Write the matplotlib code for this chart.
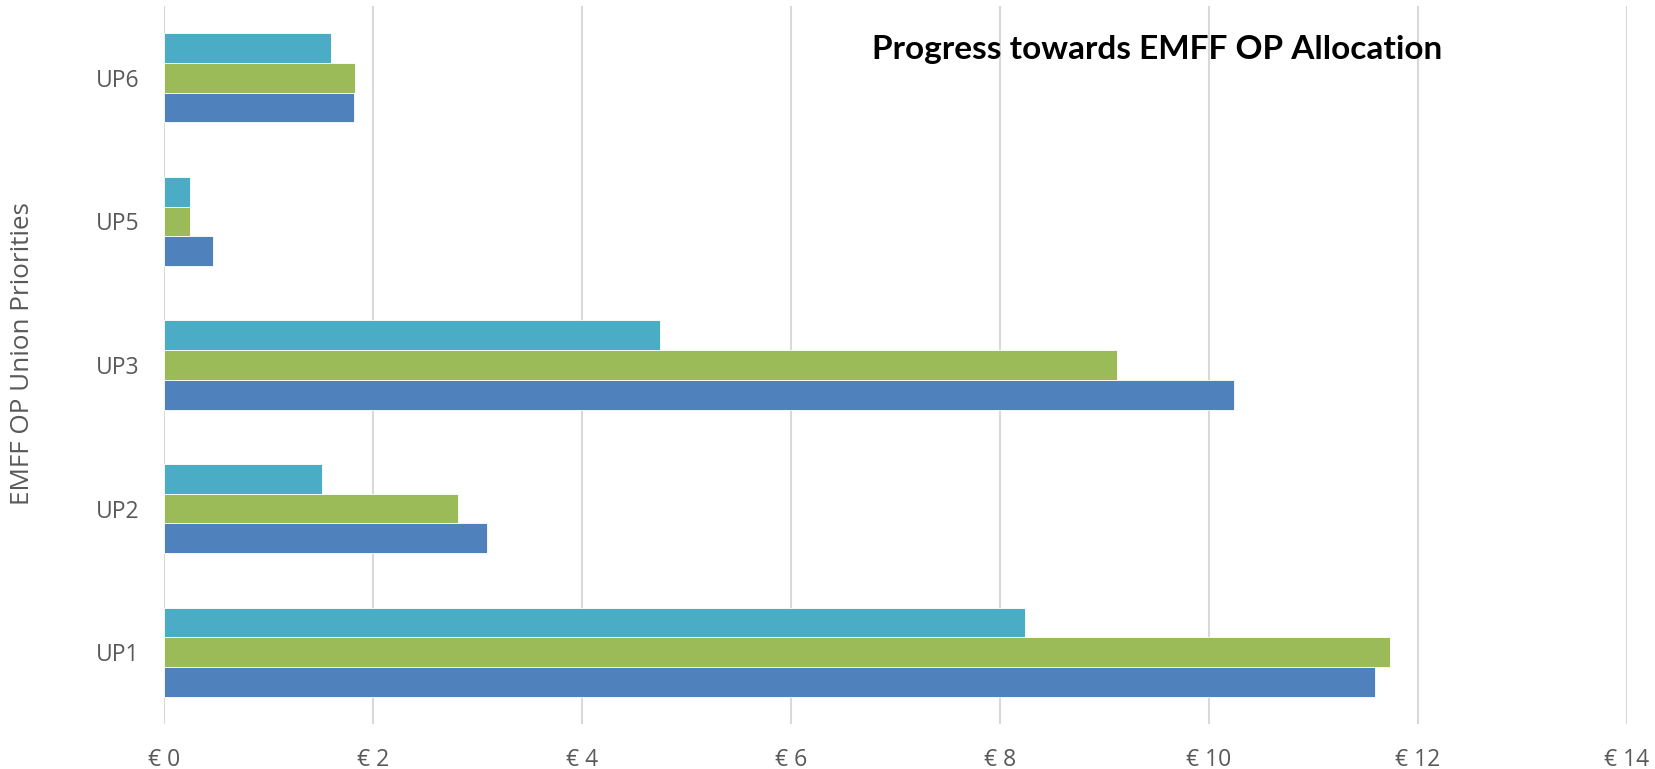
import numpy as np
import matplotlib
matplotlib.use("Agg")
import matplotlib.pyplot as plt

# data (EUR, per Union Priority)
categories = ["UP1", "UP2", "UP3", "UP5", "UP6"]
series_blue = [11.59, 3.09, 10.24, 0.47, 1.82]
series_green = [11.73, 2.81, 9.12, 0.25, 1.83]
series_cyan = [8.24, 1.51, 4.75, 0.25, 1.60]
x_ticks = [0, 2, 4, 6, 8, 10, 12, 14]
x_tick_labels = ["€ " + str(v) for v in x_ticks]

plt.rcParams['font.family'] = ['Open Sans', 'DejaVu Sans']

fig = plt.figure(figsize=(16.55, 7.69), dpi=100)
ax = fig.add_axes([164 / 1655, 1 - 724 / 769, (1627 - 164) / 1655, (724 - 6) / 769])

y = np.arange(len(categories))
h = 0.207
ax.barh(y - h, series_blue, height=h, color="#4F81BD", edgecolor="white", linewidth=0.6, zorder=3)
ax.barh(y, series_green, height=h, color="#9BBB59", edgecolor="white", linewidth=0.6, zorder=3)
ax.barh(y + h, series_cyan, height=h, color="#4BACC6", edgecolor="white", linewidth=0.6, zorder=3)

ax.set_xlim(0, 14)
ax.set_ylim(-0.5, len(categories) - 0.5)
ax.set_xticks(x_ticks)
ax.set_xticklabels(x_tick_labels)
ax.set_yticks(y)
ax.set_yticklabels(categories)
ax.tick_params(axis='both', length=0, labelsize=16.5, labelcolor="#595959")
ax.tick_params(axis='x', pad=17)
ax.tick_params(axis='y', pad=18)
ax.grid(axis='x', color="#D9D9D9", linewidth=1.5, zorder=0)
for s in ax.spines.values():
    s.set_visible(False)

fig.text(23 / 1655, 1 - 354 / 769, "EMFF OP Union Priorities", rotation=90,
         fontsize=18.8, color="#595959", ha='center', va='center')

fig.text(1157 / 1655, 1 - 50 / 769, "Progress towards EMFF OP Allocation",
         fontsize=24, fontweight='bold', color="black", ha='center', va='center',
         family=['Lato', 'DejaVu Sans'])

fig.savefig("out.png", dpi=100)
